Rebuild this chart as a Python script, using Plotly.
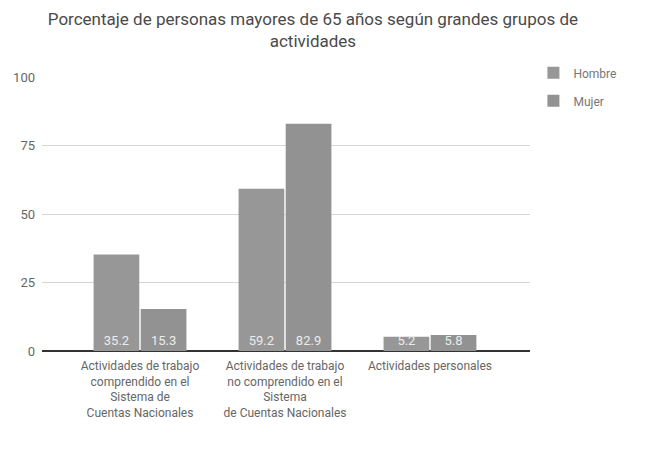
import plotly.graph_objects as go

categorias = [
    "Actividades de trabajo<br>comprendido en el<br>Sistema de<br>Cuentas Nacionales",
    "Actividades de trabajo<br>no comprendido en el<br>Sistema<br>de Cuentas Nacionales",
    "Actividades personales",
]
hombre = [35.2, 59.2, 5.2]
mujer = [15.3, 82.9, 5.8]
y_ticks = [0, 25, 50, 75, 100]

x = list(range(len(categorias)))

def bar(vals, name, color, group):
    return go.Bar(
        x=x, y=vals, name=name, legendgroup=group,
        marker=dict(color=color, line=dict(width=0)),
        text=[f"{v:.1f}" for v in vals], textposition="inside",
        insidetextanchor="start", constraintext="none",
        textangle=0, cliponaxis=False,
        textfont=dict(color="#ececec", size=13, family="Roboto"),
    )

fig = go.Figure()
fig.add_trace(bar(hombre, "Hombre", "#979797", "h"))
fig.add_trace(bar(mujer, "Mujer", "#929292", "m"))

fig.update_layout(
    width=663, height=472,
    margin=dict(l=42, r=133, t=77, b=121),
    paper_bgcolor="white", plot_bgcolor="white",
    font=dict(family="Roboto", color="#666666", size=12),
    title=dict(
        text="Porcentaje de personas mayores de 65 años según grandes grupos de<br>actividades",
        x=0.472, xanchor="center", y=0.948, yanchor="top",
        font=dict(size=17, color="#4a4a4a", family="Roboto"),
    ),
    barmode="group", bargap=0.35, bargroupgap=0.03,
    legend=dict(
        x=1.007, y=1.068, xanchor="left", yanchor="top",
        font=dict(size=12, color="#777777"),
        itemwidth=30, tracegroupgap=9,
    ),
    xaxis=dict(
        tickmode="array", tickvals=x, ticktext=categorias,
        range=[-0.676, 2.69], showgrid=False, zeroline=False,
        showline=False, ticks="", tickangle=0,
        ticklabelstandoff=6,
        tickfont=dict(size=12, color="#666666"),
    ),
    yaxis=dict(
        range=[0, 100], tickvals=y_ticks, showgrid=True,
        gridcolor="#d6d6d6", gridwidth=1, zeroline=True,
        zerolinecolor="#333333", zerolinewidth=2,
        ticks="", tickfont=dict(size=13, color="#666666"),
        ticklabelstandoff=6,
        showline=False,
    ),
)

fig.write_html("out.html")
